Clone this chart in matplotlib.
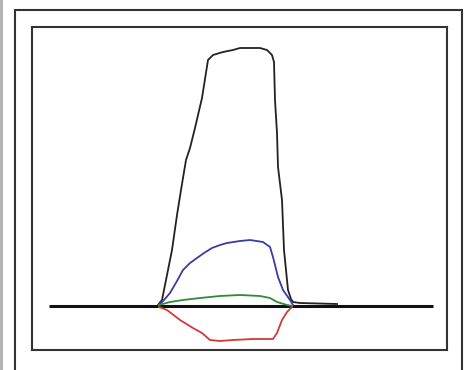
import matplotlib
matplotlib.use("Agg")
import matplotlib.pyplot as plt
from matplotlib.patches import Rectangle

# Data (arbitrary time / amplitude units)
black_x = [126, 130, 135, 140, 145, 149, 154, 158, 163, 170, 176, 181, 191, 201, 208, 228, 235,
           240, 242, 243, 245, 246, 250, 252, 254, 256, 259, 261, 268, 305]
black_y = [1, 6, 31, 56, 91, 116, 146, 158, 178, 208, 246, 251, 254, 256, 258, 258, 256,
           251, 244, 206, 173, 139, 106, 56, 36, 16, 7, 4, 3, 2]

blue_x = [127, 132, 138, 145, 151, 158, 165, 172, 180, 188, 195, 208, 218, 231, 238,
          241, 246, 251, 258, 261]
blue_y = [1, 6, 13, 25, 36, 43, 48, 53, 58, 61, 63, 65, 66, 64, 59, 49, 29, 16, 6, 1]

green_x = [127, 138, 151, 168, 188, 208, 228, 238, 245, 255, 260]
green_y = [1, 4, 6, 8, 10, 11, 10, 8, 4, 1, 0]

red_x = [127, 135, 148, 161, 170, 178, 188, 201, 221, 231, 241, 245, 250, 255, 260]
red_y = [-1, -4, -14, -22, -27, -34, -35, -34, -33, -33, -33, -27, -14, -6, -1]

baseline_x = [17, 401]
baseline_y = [0, 0]

fig = plt.figure(figsize=(4.69, 3.70), dpi=100)
W, H = 469, 370

# left gray strip
fig.patches.append(Rectangle((0, 0), 2.5 / W, 1, transform=fig.transFigure,
                             facecolor="#b4b4b4", edgecolor="none"))
# outer frame
fig.patches.append(Rectangle((15 / W, -0.05), (462 - 15) / W, (370 - 10) / H + 0.05,
                             transform=fig.transFigure, facecolor="none",
                             edgecolor="#333333", linewidth=1.5))

ax = fig.add_axes([32 / W, (370 - 350) / H, (447 - 32) / W, (350 - 27) / H])
ax.set_xlim(0, 415)
ax.set_ylim(-44, 279)
ax.set_xticks([])
ax.set_yticks([])
for s in ax.spines.values():
    s.set_color("#333333")
    s.set_linewidth(1.5)

ax.plot(baseline_x, baseline_y, color="#111111", linewidth=2.2, solid_capstyle="butt")
ax.plot(black_x, black_y, color="#222222", linewidth=1.3)
ax.plot(blue_x, blue_y, color="#3a3aa8", linewidth=1.3)
ax.plot(green_x, green_y, color="#2f8a3c", linewidth=1.3)
ax.plot(red_x, red_y, color="#d03a3a", linewidth=1.3)

fig.savefig("out.png", dpi=100)
